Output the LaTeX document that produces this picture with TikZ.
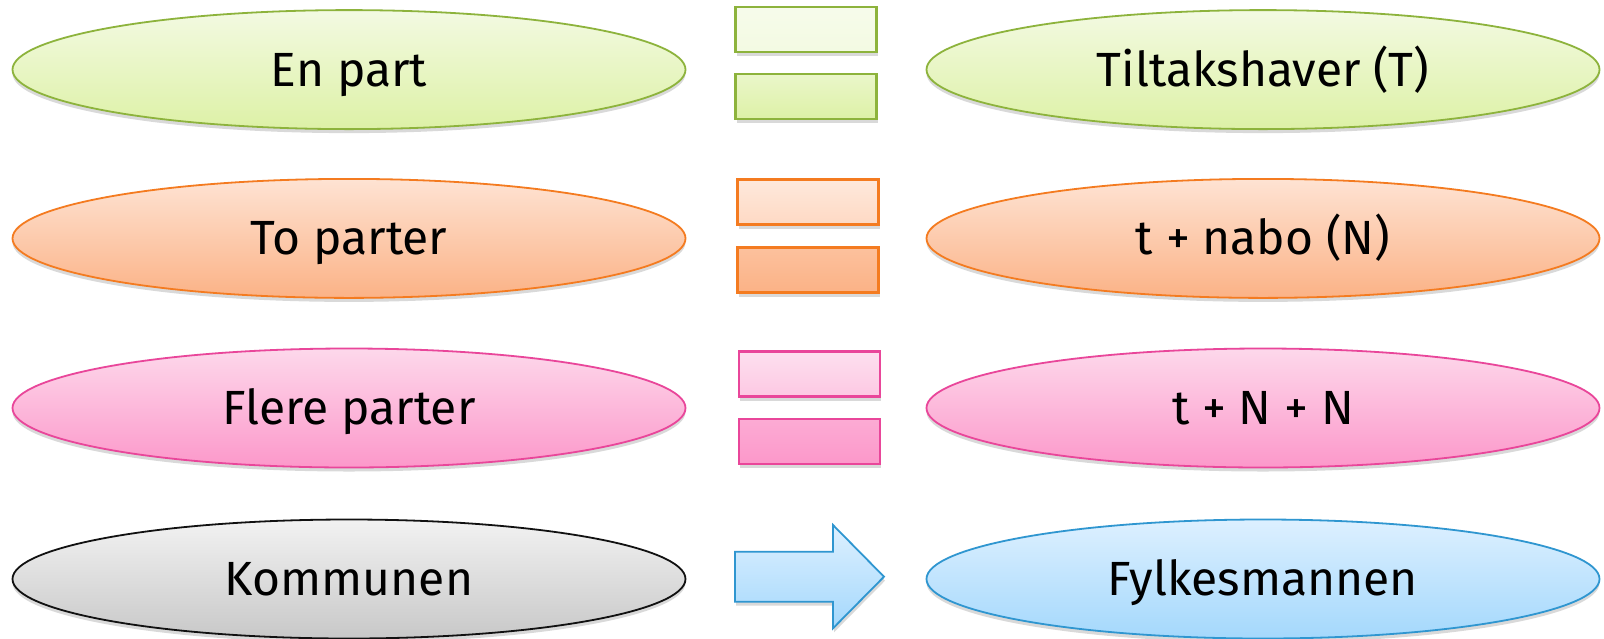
\documentclass[tikz,border=0pt]{standalone}
\usepackage{fontspec}
\setmainfont{Fira Sans}
\usetikzlibrary{shapes.geometric,shadows}
\definecolor{gA}{HTML}{F3FAE2}\definecolor{gB}{HTML}{DDF1A6}\definecolor{gL}{HTML}{8DB33C}
\definecolor{oA}{HTML}{FEE3D3}\definecolor{oB}{HTML}{FBB286}\definecolor{oL}{HTML}{F47B20}
\definecolor{pA}{HTML}{FDD8EB}\definecolor{pB}{HTML}{FC98CA}\definecolor{pL}{HTML}{E9469A}
\definecolor{kA}{HTML}{F2F2F2}\definecolor{kB}{HTML}{C8C8C8}\definecolor{kL}{HTML}{111111}
\definecolor{bA}{HTML}{DDF0FF}\definecolor{bB}{HTML}{A4D8FC}\definecolor{bL}{HTML}{2F96D0}
\pgfdeclarehorizontalshading{bgshade}{100bp}{color(0bp)=(black!7); color(10bp)=(white); color(80bp)=(white); color(100bp)=(black!13)}
\tikzset{
  oval/.style={ellipse, minimum width=673pt, minimum height=119pt, inner sep=0pt,
    line width=1.8pt, font=\fontsize{48}{50}\selectfont, text height=33pt, text depth=0pt,
    drop shadow={shadow xshift=0pt, shadow yshift=-4pt, opacity=0.15, fill=black}},
  bar/.style={rectangle, minimum width=141pt, minimum height=45pt, inner sep=0pt,
    line width=2.2pt,
    drop shadow={shadow xshift=1pt, shadow yshift=-4pt, opacity=0.15, fill=black}},
  grn/.style={draw=gL, top color=gA, bottom color=gB},
  org/.style={draw=oL, top color=oA, bottom color=oB},
  pnk/.style={draw=pL, top color=pA, bottom color=pB},
  gry/.style={draw=kL, top color=kA, bottom color=kB},
  blu/.style={draw=bL, top color=bA, bottom color=bB},
}
\begin{document}
\begin{tikzpicture}[x=1pt,y=-1pt]
\useasboundingbox (0,0) rectangle (1604,638);
\shade[shading=bgshade] (0,0) rectangle (1604,638);
% row 1
\node[oval,grn] (l1) at (349,69.6) {En part};
\node[oval,grn] (r1) at (1263,69.6) {Tiltakshaver (T)};
\node[bar,grn,top color=gA!70!white,bottom color=gA] (e1a) at (806,29.5) {};
\node[bar,grn,top color=gA!60!gB,bottom color=gB] (e1b) at (806,96.5) {};
% row 2
\node[oval,org] (l2) at (349,238.4) {To parter};
\node[oval,org] (r2) at (1263,238.4) {t + nabo (N)};
\node[bar,org,top color=oA!80!white,bottom color=oA!80!oB] (e2a) at (808,202) {};
\node[bar,org,top color=oA!30!oB,bottom color=oB] (e2b) at (808,270) {};
% row 3
\node[bar,pnk,top color=pA!80!white,bottom color=pA!75!pB] (e3a) at (809.5,374) {};
\node[bar,pnk,top color=pA!30!pB,bottom color=pB] (e3b) at (809.5,441.3) {};
\node[oval,pnk] (l3) at (349,408) {Flere parter};
\node[oval,pnk] (r3) at (1263,408) {t + N + N};
% row 4
\node[oval,gry] (l4) at (349,579) {Kommunen};
\node[oval,blu] (r4) at (1263,579) {Fylkesmannen};
\draw[blu, line width=1.8pt, line join=miter,
  drop shadow={shadow xshift=1pt, shadow yshift=-4pt, opacity=0.15, fill=black}]
  (735,551.7) -- (833,551.7) -- (833,525) -- (884,576.7) -- (833,628.3) -- (833,601.7) -- (735,601.7) -- cycle;
\end{tikzpicture}
\end{document}
